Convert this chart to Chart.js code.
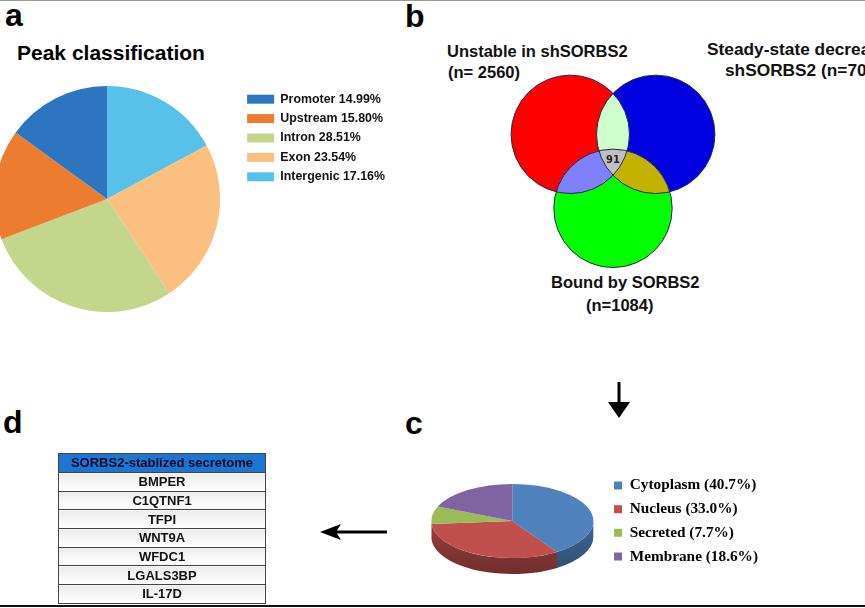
<!DOCTYPE html>
<html>
<head>
<meta charset="utf-8">
<script src="https://cdn.jsdelivr.net/npm/chart.js@4.4.1/dist/chart.umd.min.js"></script>
<style>
body { margin: 0; width: 865px; height: 608px; overflow: hidden; position: relative; background: #fff;
       font-family: "Liberation Sans", Arial, sans-serif; color: #000; }
.abs { position: absolute; white-space: nowrap; }
.letter { font-weight: bold; font-size: 32px; line-height: 1; }
.vlab { font-weight: bold; font-size: 16.5px; line-height: 1; color: #111; }
#topline { left: 0; top: 0; width: 865px; height: 1px; background: #9a9a9a; }
#botline { left: 0; top: 605px; width: 865px; height: 2px; background: #111; }
table { border-collapse: collapse; width: 208px; font-weight: bold; font-size: 13px; color: #111; }
td { border: 1px solid #444; height: 17.7px; padding: 0; text-align: center; line-height: 17px;
     background: linear-gradient(#ececec, #ffffff); }
th { border: 1px solid #444; height: 18px; padding: 0; background: #1a76cf; color: #0a0a2a; font-size: 13px; line-height: 18px; }
</style>
</head>
<body>
<div id="topline" class="abs"></div>
<div id="botline" class="abs"></div>

<div class="abs letter" style="left:5px; top:-1px;">a</div>
<div class="abs letter" style="left:405px; top:0px;">b</div>
<div class="abs letter" style="left:405px; top:407px;">c</div>
<div class="abs letter" style="left:3px; top:406px;">d</div>

<div class="abs" style="left:17px; top:42px; font-weight:bold; font-size:21px; line-height:1;">Peak classification</div>
<canvas id="peak" class="abs" width="436" height="226" style="left:-26px; top:86px;"></canvas>

<div class="abs vlab" style="left:447px; top:43px;">Unstable in shSORBS2</div>
<div class="abs vlab" style="left:448px; top:64px;">(n= 2560)</div>
<div class="abs vlab" style="left:707px; top:41px; font-size:17.3px;">Steady-state decreased in</div>
<div class="abs vlab" style="left:725px; top:62px; font-size:17.3px;">shSORBS2 (n=70</div>
<div class="abs vlab" style="left:551px; top:274px;">Bound by SORBS2</div>
<div class="abs vlab" style="left:586px; top:297px;">(n=1084)</div>
<canvas id="venn" class="abs" width="296" height="296" style="left:465px; top:11px;"></canvas>

<svg class="abs" width="865" height="608" style="left:0; top:0;">
  <line x1="619" y1="382" x2="619" y2="405" stroke="#000" stroke-width="3"/>
  <polygon points="608,402 630,402 619,418" fill="#000"/>
  <line x1="336" y1="532" x2="387" y2="532" stroke="#000" stroke-width="3"/>
  <polygon points="320,532 341,524 336,532 341,540" fill="#000"/>
</svg>

<canvas id="loc" class="abs" width="380" height="162" style="left:419px; top:440px;"></canvas>

<div class="abs" style="left:58px; top:453px;">
<table id="secretome"></table>
</div>

<script>
// panel a: peak classification
const peakLabels = ['Promoter', 'Upstream', 'Intron', 'Exon', 'Intergenic'];
const peakValues = [14.99, 15.80, 28.51, 23.54, 17.16];
const peakColors = ['#2e75c0', '#ec7c30', '#c4d68c', '#fbc07f', '#58c1ea'];

// panel b: venn
const vennSets = ['Unstable in shSORBS2', 'Steady-state decreased in shSORBS2', 'Bound by SORBS2'];
const vennCore = 91;
const vennColors = ['#ff0000', '#0000e0', '#00ff00'];
const vennPairColors = { '0-1': '#ccffcc', '0-2': '#8080ff', '1-2': '#c3b300' };
const vennCoreColor = '#c0c0c0';

// panel c: subcellular location
const locLabels = ['Cytoplasm', 'Nucleus', 'Secreted', 'Membrane'];
const locValues = [40.7, 33.0, 7.7, 18.6];
const locColors = ['#4f81bd', '#c0504d', '#9bbb59', '#8064a2'];

// panel d: secretome table
const secretomeTitle = 'SORBS2-stablized secretome';
const secretomeGenes = ['BMPER', 'C1QTNF1', 'TFPI', 'WNT9A', 'WFDC1', 'LGALS3BP', 'IL-17D'];

Chart.defaults.font.family = '"Liberation Sans", Arial, sans-serif';

// build once to read the legend width, then size the canvas so the pie area has the wanted width
function legendChart(canvas, makeConfig, areaWidth) {
    var probe = new Chart(canvas, makeConfig());
    var lw = probe.legend.width;
    probe.destroy();
    canvas.width = Math.ceil(areaWidth + lw);
    return new Chart(canvas, makeConfig());
}

legendChart(document.getElementById('peak'), function() {
    return {
        type: 'pie',
        data: {
            labels: peakLabels.map((n, i) => n + ' ' + peakValues[i].toFixed(2) + '%').reverse(),
            datasets: [{
                data: peakValues.slice().reverse(),
                backgroundColor: peakColors.slice().reverse(),
                borderWidth: 0
            }]
        },
        options: {
            responsive: false,
            maintainAspectRatio: false,
            animation: false,
            plugins: {
                tooltip: { enabled: false },
                legend: {
                    position: 'right',
                    align: 'start',
                    reverse: true,
                    labels: {
                        boxWidth: 27, boxHeight: 9, padding: 7, color: '#111',
                        font: { size: 12.4, weight: 'bold' }
                    }
                }
            }
        }
    };
}, 266);

// venn circles drawn over the scatter scale
var vennPlugin = {
    id: 'venn',
    afterDatasetsDraw: function(chart) {
        var ctx = chart.ctx;
        var pts = chart.getDatasetMeta(0).data;
        var xs = chart.scales.x;
        var r = xs.getPixelForValue(1.2) - xs.getPixelForValue(0);
        var circle = function(p) { ctx.beginPath(); ctx.arc(p.x, p.y, r, 0, Math.PI * 2); };
        ctx.save();
        pts.forEach(function(p, i) { circle(p); ctx.fillStyle = vennColors[i]; ctx.fill(); });
        Object.keys(vennPairColors).forEach(function(k) {
            var ij = k.split('-');
            ctx.save();
            circle(pts[ij[0]]); ctx.clip();
            circle(pts[ij[1]]); ctx.fillStyle = vennPairColors[k]; ctx.fill();
            ctx.restore();
        });
        ctx.save();
        circle(pts[0]); ctx.clip();
        circle(pts[1]); ctx.clip();
        circle(pts[2]); ctx.fillStyle = vennCoreColor; ctx.fill();
        ctx.restore();
        ctx.strokeStyle = '#262650';
        ctx.lineWidth = 1;
        pts.forEach(function(p) { circle(p); ctx.stroke(); });
        var cx = (pts[0].x + pts[1].x + pts[2].x) / 3;
        var cy = (pts[0].y + pts[1].y + pts[2].y) / 3;
        ctx.fillStyle = '#222';
        ctx.font = 'bold 10px "DejaVu Sans", sans-serif';
        ctx.textAlign = 'center';
        ctx.textBaseline = 'middle';
        ctx.fillText(String(vennCore), cx, cy + 1);
        ctx.restore();
    }
};

var vennAngles = [150, 30, -90];
new Chart(document.getElementById('venn'), {
    type: 'scatter',
    data: {
        labels: vennSets,
        datasets: [{
            data: vennAngles.map(function(a) {
                return { x: Math.cos(a * Math.PI / 180), y: Math.sin(a * Math.PI / 180) };
            }),
            pointRadius: 0
        }]
    },
    options: {
        responsive: false,
        animation: false,
        scales: {
            x: { type: 'linear', min: -3, max: 3, display: false },
            y: { type: 'linear', min: -3, max: 3, display: false }
        },
        plugins: { legend: { display: false }, tooltip: { enabled: false } }
    },
    plugins: [vennPlugin]
});

// fake 3D: squash the pie and paint a side wall under it
function shade(hex, f) {
    var n = parseInt(hex.slice(1), 16);
    var r = Math.round(((n >> 16) & 255) * f), g = Math.round(((n >> 8) & 255) * f), b = Math.round((n & 255) * f);
    return 'rgb(' + r + ',' + g + ',' + b + ')';
}

var pie3d = {
    id: 'pie3d',
    beforeDatasetsDraw: function(chart, args, opts) {
        var ctx = chart.ctx;
        var arcs = chart.getDatasetMeta(0).data;
        var cy = arcs[0].y;
        ctx.save();
        ctx.translate(0, cy);
        ctx.scale(1, opts.tilt);
        ctx.translate(0, -cy);
        var d = opts.depth / opts.tilt;
        arcs.forEach(function(a, i) {
            var s = Math.max(a.startAngle, 0), e = Math.min(a.endAngle, Math.PI);
            if (s >= e) return;
            var g = ctx.createLinearGradient(0, a.y, 0, a.y + a.outerRadius + d);
            g.addColorStop(0, shade(locColors[i], 0.8));
            g.addColorStop(1, shade(locColors[i], 0.58));
            ctx.beginPath();
            ctx.arc(a.x, a.y, a.outerRadius, s, e);
            ctx.arc(a.x, a.y + d, a.outerRadius, e, s, true);
            ctx.closePath();
            ctx.fillStyle = g;
            ctx.fill();
        });
    },
    afterDatasetsDraw: function(chart) {
        chart.ctx.restore();
    }
};

legendChart(document.getElementById('loc'), function() {
    return {
        type: 'pie',
        data: {
            labels: locLabels.map((n, i) => n + ' (' + locValues[i].toFixed(1) + '%)'),
            datasets: [{ data: locValues, backgroundColor: locColors, borderWidth: 0 }]
        },
        options: {
            responsive: false,
            maintainAspectRatio: false,
            animation: false,
            plugins: {
                tooltip: { enabled: false },
                pie3d: { tilt: 0.457, depth: 16 },
                legend: {
                    position: 'right',
                    align: 'center',
                    labels: {
                        boxWidth: 8, boxHeight: 8, padding: 8.4, color: '#000',
                        font: { family: '"Liberation Serif", "Times New Roman", serif', size: 15.3, weight: 'bold' }
                    }
                }
            }
        },
        plugins: [pie3d]
    };
}, 186);

var tbl = document.getElementById('secretome');
var html = '<tr><th>' + secretomeTitle + '</th></tr>';
secretomeGenes.forEach(function(g) { html += '<tr><td>' + g + '</td></tr>'; });
tbl.innerHTML = html;
</script>
</body>
</html>
